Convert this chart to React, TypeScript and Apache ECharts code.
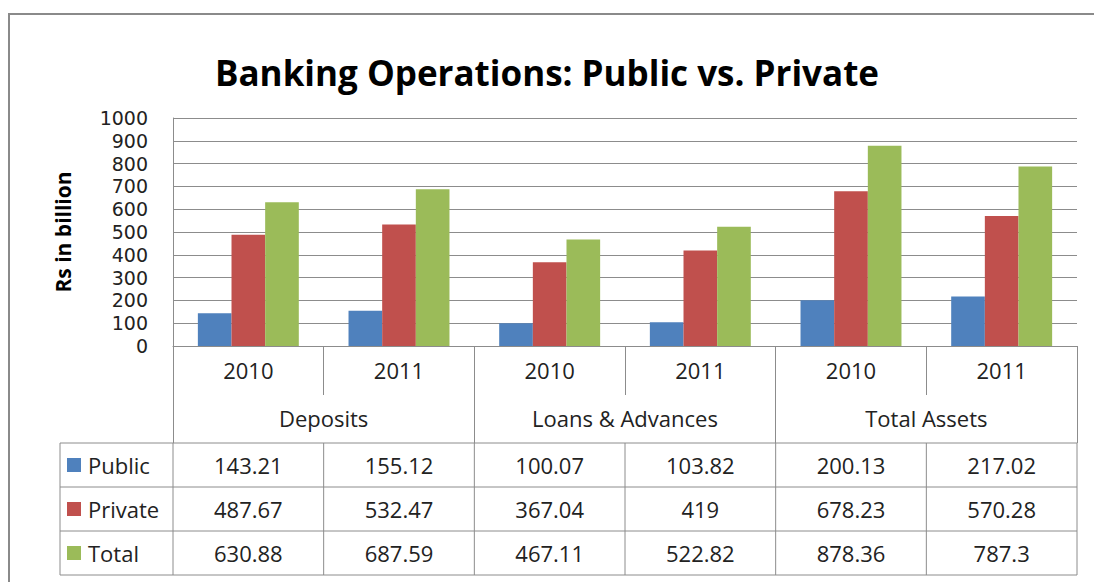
import React, { useEffect, useRef } from "react";
import * as echarts from "echarts";

const categories = ["2010", "2011", "2010", "2011", "2010", "2011"];
const groups = ["Deposits", "Loans & Advances", "Total Assets"];
const seriesNames = ["Public", "Private", "Total"];
const publicValues = [143.21, 155.12, 100.07, 103.82, 200.13, 217.02];
const privateValues = [487.67, 532.47, 367.04, 419, 678.23, 570.28];
const totalValues = [630.88, 687.59, 467.11, 522.82, 878.36, 787.3];
const tableLabels = ["143.21", "155.12", "100.07", "103.82", "200.13", "217.02"];
const colors = ["#4F81BD", "#C0504D", "#9BBB59"];

const FONT = "'Open Sans', 'Liberation Sans', sans-serif";
const TXT = "#222";
const LINE = "#8c8c8c";

export default function App() {
  const ref = useRef<HTMLDivElement>(null);
  useEffect(() => {
    if (!ref.current) return;
    const chart = echarts.init(ref.current, undefined, { renderer: "svg" });
    const seriesData = [publicValues, privateValues, totalValues];
    const gridLeft = 173, gridRight = 17, gridTop = 118, gridBottomY = 346;
    chart.setOption({
      animation: false,
      backgroundColor: "#fff",
      title: {
        text: "Banking Operations: Public vs. Private",
        left: "center",
        top: 50,
        textStyle: { fontFamily: FONT, fontWeight: "bold", fontSize: 35, color: "#000" },
      },
      grid: { left: gridLeft, right: gridRight, top: gridTop, bottom: 582 - gridBottomY },
      xAxis: [
        {
          type: "category",
          data: categories,
          position: "bottom",
          axisLine: { show: true, lineStyle: { color: LINE, width: 1 } },
          axisTick: { show: true, length: 49, interval: 0, lineStyle: { color: LINE } },
          axisLabel: { margin: 13, fontFamily: FONT, fontSize: 22, color: TXT, interval: 0 },
          splitLine: { show: false },
        },
        {
          type: "category",
          data: groups,
          position: "bottom",
          axisLine: { show: false },
          axisTick: { show: true, length: 97, interval: 0, lineStyle: { color: LINE } },
          axisLabel: { margin: 61, fontFamily: FONT, fontSize: 22, color: TXT, interval: 0 },
          splitLine: { show: false },
        },
      ],
      yAxis: {
        type: "value",
        min: 0,
        max: 1000,
        interval: 100,
        name: "Rs in billion",
        nameLocation: "middle",
        nameGap: 100,
        nameTextStyle: { fontFamily: FONT, fontWeight: "bold", fontSize: 21, color: "#000" },
        axisLine: { show: true, lineStyle: { color: LINE } },
        axisTick: { show: false },
        axisLabel: {
          margin: 25,
          fontFamily: "'DejaVu Sans', sans-serif",
          fontSize: 19,
          color: TXT,
          lineHeight: 19,
          formatter: (v: number) => String(v),
        },
        splitLine: { show: true, lineStyle: { color: LINE, width: 1 } },
      },
      series: seriesNames.map((n, i) => ({
        name: n,
        type: "bar",
        data: seriesData[i],
        xAxisIndex: 0,
        barGap: "0%",
        barCategoryGap: "33%",
        itemStyle: { color: colors[i] },
      })),
    });

    const c0 = chart.convertToPixel({ xAxisIndex: 0 }, 0) as number;
    const c1 = chart.convertToPixel({ xAxisIndex: 0 }, 1) as number;
    const colW = c1 - c0;
    const leftEdge = c0 - colW / 2;
    const rightEdge = leftEdge + colW * categories.length;
    const tableLeft = 60;
    const rowTops = [443, 487, 531, 575];
    const rowH = 44;
    const valueLabels = [
      tableLabels,
      privateValues.map((v) => String(v)),
      totalValues.map((v) => String(v)),
    ];
    const els: any[] = [];
    els.push({
      type: "rect",
      shape: { x: 9, y: 14, width: 1200, height: 700 },
      style: { fill: "none", stroke: "#8a8a8a", lineWidth: 2 },
      silent: true,
    });
    rowTops.forEach((y) => {
      els.push({
        type: "line",
        shape: { x1: tableLeft, y1: y, x2: rightEdge, y2: y },
        style: { stroke: LINE, lineWidth: 1 },
      });
    });
    const vxs = [tableLeft];
    for (let i = 0; i <= categories.length; i++) vxs.push(leftEdge + colW * i);
    vxs.forEach((x) => {
      els.push({
        type: "line",
        shape: { x1: x, y1: rowTops[0], x2: x, y2: rowTops[3] },
        style: { stroke: LINE, lineWidth: 1 },
      });
    });
    seriesNames.forEach((n, r) => {
      const cy = rowTops[r] + rowH / 2;
      els.push({
        type: "rect",
        shape: { x: 67, y: cy - 7, width: 14, height: 14 },
        style: { fill: colors[r] },
      });
      els.push({
        type: "text",
        x: 88,
        y: cy,
        style: { text: n, fontFamily: FONT, fontSize: 22, fill: TXT, align: "left", verticalAlign: "middle" },
      });
      valueLabels[r].forEach((t, i) => {
        els.push({
          type: "text",
          x: leftEdge + colW * (i + 0.5),
          y: cy,
          style: { text: t, fontFamily: FONT, fontSize: 22, fill: TXT, align: "center", verticalAlign: "middle" },
        });
      });
    });
    chart.setOption({ graphic: els });
    return () => chart.dispose();
  }, []);
  return (
    <div
      ref={ref}
      style={{ position: "fixed", left: 0, top: 0, width: 1094, height: 582 }}
    />
  );
}
